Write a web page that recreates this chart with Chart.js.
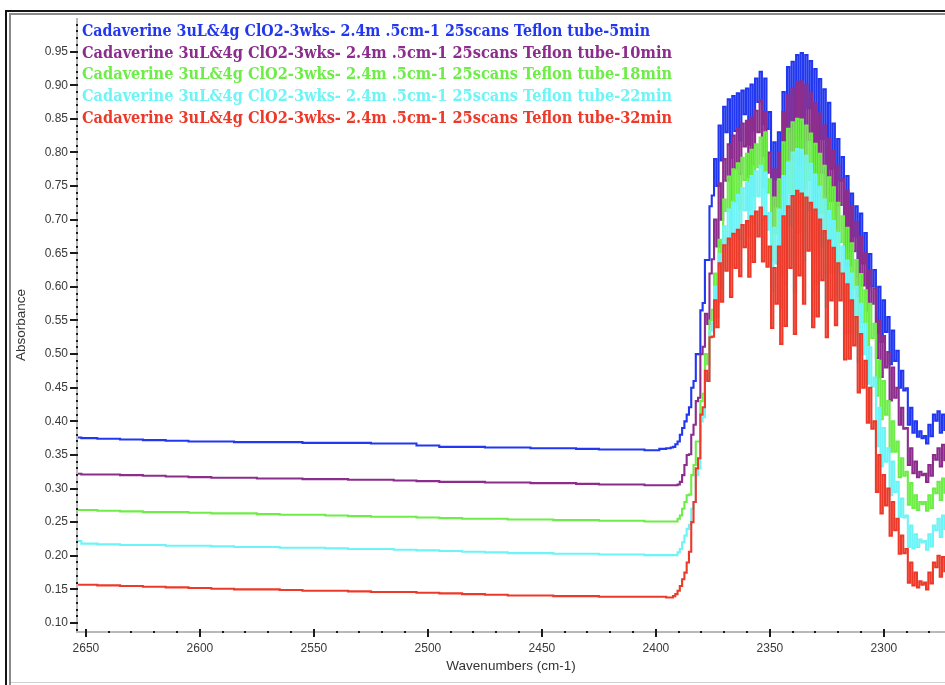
<!DOCTYPE html>
<html><head><meta charset="utf-8">
<script src="https://cdn.jsdelivr.net/npm/chart.js@4"></script>
<style>html,body{margin:0;padding:0;background:#fff;overflow:hidden}canvas{display:block}</style>
</head><body>
<canvas id="c" width="945" height="685"></canvas>
<script>
const seriesNames = [
  'Cadaverine 3uL&4g ClO2-3wks- 2.4m .5cm-1 25scans Teflon tube-5min',
  'Cadaverine 3uL&4g ClO2-3wks- 2.4m .5cm-1 25scans Teflon tube-10min',
  'Cadaverine 3uL&4g ClO2-3wks- 2.4m .5cm-1 25scans Teflon tube-18min',
  'Cadaverine 3uL&4g ClO2-3wks- 2.4m .5cm-1 25scans Teflon tube-22min',
  'Cadaverine 3uL&4g ClO2-3wks- 2.4m .5cm-1 25scans Teflon tube-32min'
];
const seriesColors = ['#2238f0', '#8c2c8c', '#6eec48', '#6ef4f6', '#ec3a2a'];

const xTickValues = [2650, 2600, 2550, 2500, 2450, 2400, 2350, 2300];
const yTickValues = [0.10, 0.15, 0.20, 0.25, 0.30, 0.35, 0.40, 0.45, 0.50, 0.55, 0.60, 0.65, 0.70, 0.75, 0.80, 0.85, 0.90, 0.95];

// flat baseline part (cm-1)
const baseWn = [2654, 2650, 2640, 2630, 2620, 2610, 2600, 2590, 2580, 2570, 2560, 2550, 2540, 2530,
  2520, 2510, 2500, 2490, 2480, 2470, 2460, 2450, 2440, 2430, 2420, 2410, 2400];
// CO2 band part (cm-1)
const peakWn = [
  2397,2396,2395,2394,2393,2392,2391,2390,2389,2388,
  2387,2386,2385,2384,2383,2382,2381,2380,2379,2378,
  2377,2376,2375,2374,2373,2372,2371,2370,2369,2368,
  2367,2366,2365,2364,2363,2362,2361,2360,2359,2358,
  2357,2356,2355,2354,2353,2352,2351,2350,2349,2348,
  2347,2346,2345,2344,2343,2342,2341,2340,2339,2338,
  2337,2336,2335,2334,2333,2332,2331,2330,2329,2328,
  2327,2326,2325,2324,2323,2322,2321,2320,2319,2318,
  2317,2316,2315,2314,2313,2312,2311,2310,2309,2308,
  2307,2306,2305,2304,2303,2302,2301,2300,2299,2298,
  2297,2296,2295,2294,2293,2292,2291,2290,2289,2288,
  2287,2286,2285,2284,2283,2282,2281,2280,2279,2278,
  2277,2276,2275,2274,2273];

const base5min = [0.376,0.375,0.374,0.373,0.372,0.371,0.370,0.370,0.369,0.369,0.369,0.368,0.368,0.368,
  0.367,0.367,0.364,0.362,0.362,0.361,0.361,0.360,0.360,0.359,0.358,0.358,0.357];
const peak5min = [
  0.359,0.359,0.360,0.360,0.361,0.362,0.366,0.370,0.380,0.390,
  0.400,0.410,0.421,0.450,0.460,0.500,0.500,0.565,0.576,0.640,
  0.640,0.720,0.736,0.790,0.750,0.840,0.788,0.868,0.830,0.879,
  0.792,0.884,0.832,0.888,0.818,0.892,0.857,0.895,0.812,0.901,
  0.833,0.910,0.875,0.920,0.842,0.910,0.835,0.860,0.724,0.815,
  0.760,0.830,0.690,0.890,0.744,0.927,0.831,0.935,0.730,0.945,
  0.822,0.948,0.787,0.945,0.866,0.936,0.750,0.924,0.765,0.909,
  0.820,0.894,0.738,0.874,0.776,0.843,0.728,0.820,0.758,0.793,
  0.659,0.765,0.653,0.739,0.675,0.720,0.615,0.709,0.635,0.680,
  0.593,0.649,0.601,0.625,0.532,0.600,0.518,0.580,0.533,0.555,
  0.485,0.535,0.490,0.505,0.450,0.475,0.446,0.449,0.395,0.420,
  0.383,0.400,0.377,0.385,0.375,0.378,0.367,0.395,0.378,0.410,
  0.401,0.415,0.383,0.410,0.387];

const base10min = [0.322,0.321,0.321,0.320,0.319,0.318,0.317,0.316,0.316,0.315,0.315,0.314,0.314,0.313,
  0.313,0.312,0.311,0.310,0.310,0.309,0.309,0.308,0.308,0.307,0.306,0.306,0.305];
const peak10min = [
  0.305,0.305,0.305,0.305,0.305,0.305,0.305,0.306,0.310,0.320,
  0.335,0.350,0.351,0.380,0.395,0.430,0.435,0.500,0.511,0.560,
  0.545,0.620,0.641,0.700,0.660,0.754,0.700,0.790,0.758,0.812,
  0.730,0.825,0.776,0.835,0.768,0.843,0.809,0.847,0.763,0.852,
  0.783,0.862,0.830,0.878,0.795,0.860,0.770,0.800,0.682,0.775,
  0.720,0.800,0.660,0.860,0.702,0.885,0.790,0.895,0.690,0.905,
  0.781,0.906,0.745,0.900,0.819,0.888,0.700,0.873,0.714,0.858,
  0.770,0.840,0.680,0.821,0.728,0.803,0.687,0.780,0.722,0.760,
  0.631,0.743,0.632,0.720,0.653,0.697,0.586,0.675,0.602,0.650,
  0.565,0.624,0.575,0.598,0.494,0.550,0.466,0.527,0.480,0.503,
  0.431,0.480,0.435,0.450,0.395,0.420,0.389,0.390,0.335,0.360,
  0.323,0.340,0.317,0.325,0.320,0.322,0.310,0.335,0.319,0.350,
  0.343,0.360,0.333,0.365,0.342];

const base18min = [0.268,0.268,0.267,0.266,0.265,0.265,0.264,0.263,0.263,0.262,0.261,0.261,0.260,0.259,
  0.258,0.258,0.257,0.256,0.255,0.255,0.254,0.254,0.253,0.253,0.252,0.252,0.251];
const peak18min = [
  0.251,0.251,0.251,0.251,0.251,0.251,0.251,0.255,0.260,0.270,
  0.280,0.290,0.291,0.320,0.335,0.370,0.370,0.430,0.441,0.500,
  0.485,0.550,0.566,0.620,0.573,0.670,0.628,0.730,0.713,0.764,
  0.680,0.775,0.726,0.784,0.716,0.792,0.759,0.798,0.715,0.804,
  0.735,0.812,0.778,0.822,0.748,0.830,0.740,0.760,0.639,0.733,
  0.680,0.760,0.620,0.815,0.654,0.835,0.740,0.845,0.638,0.850,
  0.726,0.849,0.685,0.840,0.759,0.828,0.640,0.813,0.654,0.798,
  0.710,0.780,0.620,0.763,0.671,0.748,0.632,0.725,0.667,0.705,
  0.577,0.688,0.577,0.665,0.597,0.640,0.530,0.619,0.547,0.595,
  0.513,0.575,0.524,0.545,0.438,0.490,0.403,0.460,0.410,0.430,
  0.355,0.400,0.355,0.370,0.317,0.345,0.319,0.325,0.276,0.308,
  0.271,0.290,0.268,0.280,0.277,0.280,0.267,0.290,0.271,0.300,
  0.293,0.310,0.283,0.315,0.294];

const base22min = [0.222,0.218,0.217,0.216,0.216,0.215,0.215,0.214,0.213,0.213,0.212,0.212,0.211,0.210,
  0.210,0.209,0.208,0.207,0.206,0.205,0.204,0.204,0.203,0.203,0.202,0.202,0.201];
const peak22min = [
  0.201,0.201,0.201,0.201,0.201,0.201,0.201,0.205,0.210,0.220,
  0.230,0.240,0.246,0.270,0.280,0.320,0.330,0.400,0.406,0.470,
  0.460,0.535,0.546,0.600,0.555,0.649,0.598,0.690,0.664,0.715,
  0.630,0.725,0.676,0.737,0.671,0.747,0.714,0.755,0.675,0.765,
  0.697,0.772,0.735,0.780,0.700,0.770,0.685,0.710,0.594,0.688,
  0.635,0.715,0.570,0.765,0.604,0.785,0.693,0.800,0.593,0.805,
  0.681,0.804,0.640,0.795,0.714,0.783,0.595,0.767,0.605,0.749,
  0.660,0.730,0.570,0.713,0.621,0.698,0.585,0.680,0.622,0.660,
  0.530,0.639,0.531,0.620,0.555,0.600,0.488,0.575,0.500,0.545,
  0.456,0.510,0.452,0.465,0.363,0.420,0.333,0.390,0.340,0.360,
  0.290,0.340,0.295,0.310,0.258,0.285,0.257,0.260,0.213,0.245,
  0.211,0.232,0.213,0.224,0.220,0.222,0.209,0.232,0.214,0.245,
  0.238,0.255,0.228,0.260,0.240];

const base32min = [0.157,0.157,0.156,0.155,0.154,0.153,0.152,0.151,0.150,0.150,0.149,0.148,0.148,0.147,
  0.146,0.146,0.145,0.144,0.143,0.142,0.141,0.141,0.140,0.140,0.139,0.139,0.139];
const peak32min = [
  0.139,0.139,0.138,0.138,0.138,0.140,0.143,0.148,0.155,0.165,
  0.175,0.190,0.206,0.250,0.280,0.330,0.345,0.410,0.421,0.475,
  0.460,0.525,0.526,0.580,0.540,0.635,0.578,0.662,0.624,0.672,
  0.585,0.679,0.628,0.685,0.616,0.692,0.659,0.698,0.615,0.705,
  0.637,0.712,0.675,0.718,0.638,0.705,0.630,0.660,0.539,0.628,
  0.575,0.660,0.515,0.705,0.542,0.720,0.628,0.735,0.530,0.743,
  0.617,0.739,0.575,0.733,0.654,0.725,0.540,0.715,0.556,0.700,
  0.610,0.683,0.525,0.669,0.580,0.658,0.543,0.635,0.580,0.620,
  0.492,0.604,0.493,0.580,0.513,0.555,0.443,0.530,0.450,0.490,
  0.398,0.450,0.389,0.400,0.295,0.350,0.263,0.320,0.275,0.300,
  0.230,0.280,0.238,0.255,0.203,0.230,0.204,0.210,0.160,0.190,
  0.156,0.175,0.153,0.162,0.157,0.160,0.150,0.175,0.159,0.190,
  0.183,0.200,0.169,0.198,0.177];

const seriesBase = [base5min, base10min, base18min, base22min, base32min];
const seriesPeak = [peak5min, peak10min, peak18min, peak22min, peak32min];

const allWn = baseWn.concat(peakWn);
const datasets = seriesNames.map((name, i) => {
  const ys = seriesBase[i].concat(seriesPeak[i]);
  return {
    label: name,
    data: allWn.map((w, j) => ({x: w, y: ys[j]})),
    borderColor: seriesColors[i],
    backgroundColor: seriesColors[i],
    borderWidth: 2.1,
    pointRadius: 0,
    stepped: 'middle',
    fill: false,
    order: 4 - i
  };
});

const decor = {
  id: 'decor',
  afterDraw(chart) {
    const {ctx, chartArea: a, scales: {x, y}} = chart;
    ctx.save();
    // axis lines
    ctx.strokeStyle = '#b8b8b8';
    ctx.lineWidth = 2;
    ctx.beginPath();
    ctx.moveTo(a.left, a.top);
    ctx.lineTo(a.left, a.bottom);
    ctx.lineTo(a.right, a.bottom);
    ctx.stroke();
    ctx.fillStyle = '#1a1a1a';
    // minor ticks (dots)
    for (let k = 9; k <= 99; k++) {
      const py = y.getPixelForValue(k / 100);
      if (py < a.top || py > a.bottom) continue;
      ctx.fillRect(a.left - 1, Math.round(py) - 1, 2, 2);
    }
    for (let w = 2280; w <= 2650; w += 10) {
      const px = x.getPixelForValue(w);
      ctx.fillRect(Math.round(px) - 1, a.bottom - 1, 2, 2);
    }
    // major ticks
    yTickValues.forEach(v => {
      const py = Math.round(y.getPixelForValue(v));
      ctx.fillRect(a.left - 7, py - 1, 7, 2);
    });
    xTickValues.forEach(v => {
      const px = Math.round(x.getPixelForValue(v));
      ctx.fillRect(px - 1, a.bottom - 3, 2, 8);
    });
    // axis titles
    ctx.fillStyle = '#333';
    ctx.font = '13.5px "Liberation Sans", Arial, sans-serif';
    ctx.textAlign = 'center';
    ctx.textBaseline = 'middle';
    ctx.fillText('Wavenumbers (cm-1)', (a.left + a.right) / 2, 666);
    ctx.save();
    ctx.translate(21, (a.top + a.bottom) / 2);
    ctx.rotate(-Math.PI / 2);
    ctx.fillText('Absorbance', 0, 0);
    ctx.restore();
    // legend
    ctx.font = 'bold 16px "DejaVu Serif", serif';
    ctx.textAlign = 'left';
    ctx.textBaseline = 'alphabetic';
    seriesNames.forEach((n, i) => {
      ctx.fillStyle = seriesColors[i];
      ctx.fillText(n, 82, 36 + 21.7 * i, i === 0 ? 568 : 590);
    });
    // frame
    ctx.fillStyle = '#151515';
    ctx.fillRect(5, 10, 2, 675);
    ctx.fillRect(5, 10, 940, 2);
    ctx.fillStyle = '#8a8a8a';
    ctx.fillRect(9, 13, 2, 672);
    ctx.fillRect(9, 13, 936, 2);
    ctx.fillStyle = '#d0d0d0';
    ctx.fillRect(11, 682, 934, 1);
    ctx.restore();
  }
};

new Chart(document.getElementById('c'), {
  type: 'line',
  data: {datasets},
  options: {
    responsive: false,
    animation: false,
    devicePixelRatio: 1,
    layout: {padding: {top: 18, left: 0, right: 0, bottom: 0}},
    plugins: {legend: {display: false}, tooltip: {enabled: false}},
    scales: {
      x: {
        type: 'linear', reverse: true, min: 2273.2, max: 2653.9,
        afterBuildTicks: s => { s.ticks = xTickValues.map(v => ({value: v})); },
        afterFit: s => { s.height = 53; },
        grid: {display: false, drawTicks: false},
        border: {display: false},
        ticks: {color: '#3a3a3a', font: {family: 'Liberation Sans', size: 12}, padding: 9,
          maxRotation: 0, autoSkip: false, callback: v => String(v)}
      },
      y: {
        type: 'linear', min: 0.0866, max: 1.0,
        afterBuildTicks: s => { s.ticks = yTickValues.map(v => ({value: v})); },
        afterFit: s => { s.width = 77; },
        grid: {display: false, drawTicks: false},
        border: {display: false},
        ticks: {color: '#3a3a3a', font: {family: 'Liberation Sans', size: 12}, padding: 9,
          autoSkip: false, callback: v => Number(v).toFixed(2)}
      }
    }
  },
  plugins: [decor]
});
</script>
</body></html>
